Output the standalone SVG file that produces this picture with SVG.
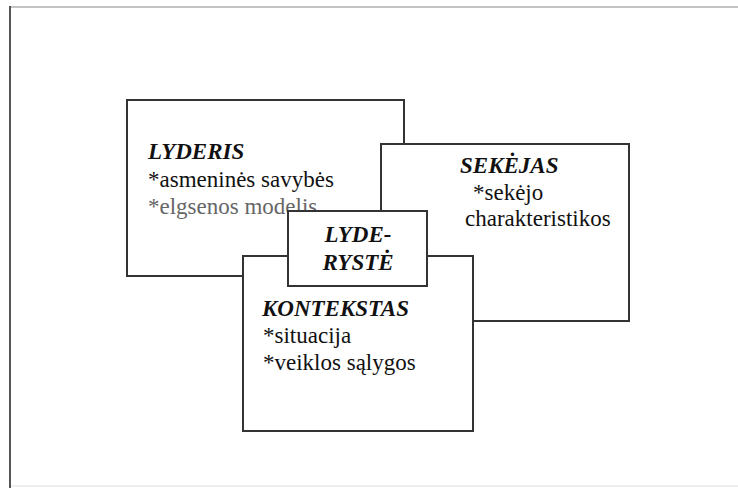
<svg xmlns="http://www.w3.org/2000/svg" width="738" height="488" viewBox="0 0 738 488">
<style>
.box{fill:#fff;stroke:#333;stroke-width:2}
.t{font-family:"Liberation Serif","Times New Roman",serif;font-size:23px;fill:#111}
.h{font-weight:bold;font-style:italic}
.g{fill:#666}
</style>
<rect x="0" y="0" width="738" height="488" fill="#fff"/>
<g id="frame">
<line x1="9" y1="7" x2="738" y2="7" stroke="#c4c4c4" stroke-width="2"/>
<line x1="10" y1="6" x2="10" y2="488" stroke="#555" stroke-width="2"/>
<line x1="11" y1="486" x2="738" y2="486" stroke="#eee" stroke-width="2"/>
</g>
<g id="connectors"></g>
<g id="lyderis">
<rect class="box" x="127" y="100" width="277" height="176"/>
<text class="t h" x="148" y="159">LYDERIS</text>
<text class="t" x="148" y="187">*asmeninės savybės</text>
<text class="t g" x="148" y="214">*elgsenos modelis</text>
</g>
<g id="sekejas">
<rect class="box" x="381" y="144" width="248" height="177"/>
<text class="t h" x="460" y="173">SEKĖJAS</text>
<text class="t" x="473" y="200">*sekėjo</text>
<text class="t" x="465" y="226">charakteristikos</text>
</g>
<g id="kontekstas">
<rect class="box" x="243" y="256" width="230" height="175"/>
<text class="t h" x="262" y="316">KONTEKSTAS</text>
<text class="t" x="263" y="343">*situacija</text>
<text class="t" x="263" y="370">*veiklos sąlygos</text>
</g>
<g id="lyderyste">
<rect class="box" x="288" y="211" width="139" height="75"/>
<text class="t h" x="358" y="242" text-anchor="middle">LYDE-</text>
<text class="t h" x="358" y="270" text-anchor="middle">RYSTĖ</text>
</g>
</svg>
